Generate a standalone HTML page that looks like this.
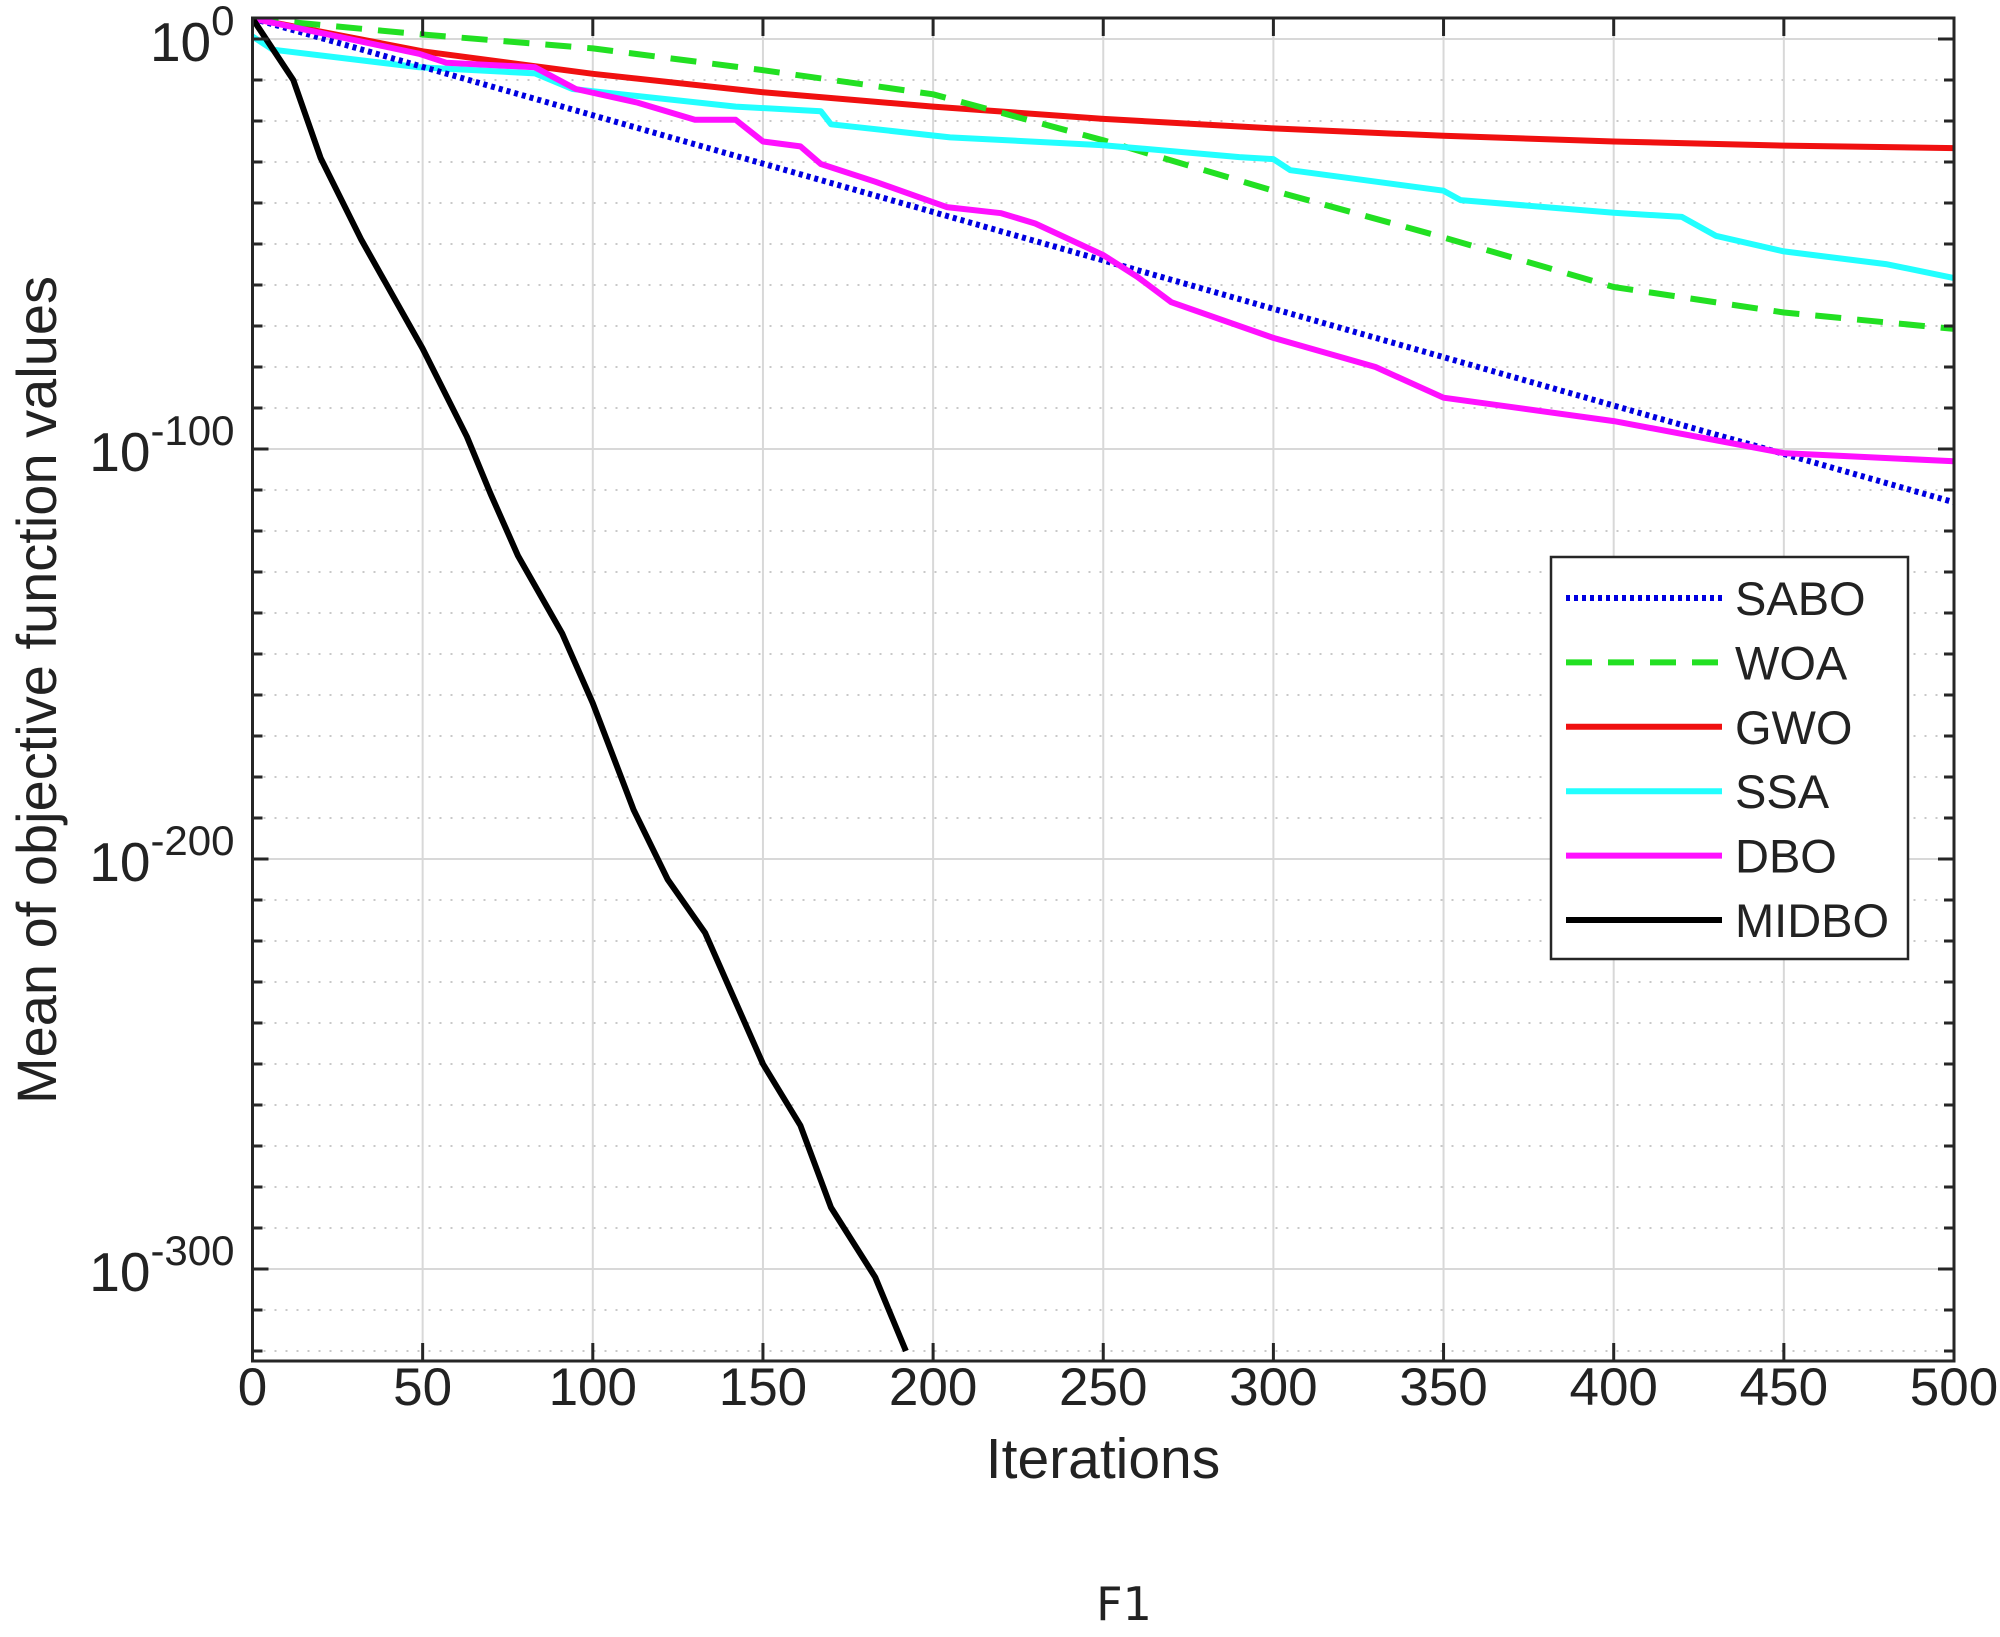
<!DOCTYPE html>
<html><head><meta charset="utf-8"><style>
html,body{margin:0;padding:0;background:#fff;}
svg{display:block;font-family:"Liberation Sans",Arial,sans-serif;}
</style></head><body>
<svg id="chart" width="2000" height="1637" viewBox="0 0 2000 1637" xmlns="http://www.w3.org/2000/svg">
<g id="grid"></g>
<g id="series"></g>
<g id="axes"></g>
<text x="1103" y="1478" font-size="57" text-anchor="middle" fill="#222">Iterations</text>
<text transform="translate(56,690) rotate(-90)" font-size="56" text-anchor="middle" fill="#222">Mean of objective function values</text>
<text x="1124" y="1620" font-size="46" text-anchor="middle" fill="#222" font-family="DejaVu Sans, sans-serif">F1</text>
<g id="legend"></g>
</svg>
<script>
const xTicks=[0,50,100,150,200,250,300,350,400,450,500];
const yMajor=[0,-100,-200,-300];
const seriesNames=["SABO","WOA","GWO","SSA","DBO","MIDBO"];
const saboX=[0,500];
const saboY=[5,-113];
const woaX=[0,50,100,150,200,250,300,350,400,450,500];
const woaY=[5,1.1,-2.3,-7.6,-13.5,-24.7,-37,-48.4,-60.5,-66.7,-70.7];
const gwoX=[0,50,100,150,200,250,300,350,400,450,500];
const gwoY=[5,-3,-8.5,-13,-16.5,-19.5,-21.8,-23.6,-25,-26,-26.6];
const ssaX=[0,6,49,83,94,142,167,170,205,250,290,300,305,350,355,400,420,430,450,480,500];
const ssaY=[0.6,-2.6,-6.9,-8.4,-12.2,-16.5,-17.6,-20.8,-24,-25.9,-28.8,-29.3,-32,-37,-39.3,-42.4,-43.4,-48,-51.8,-54.9,-58.3];
const dboX=[0,49,57,83,95,113,130,142,150,161,167,183,204,220,230,250,260,270,300,330,350,400,450,500];
const dboY=[5,-3.6,-5.8,-6.9,-12.2,-15.5,-19.7,-19.7,-25,-26.2,-30.5,-34.8,-41,-42.5,-45,-52.7,-58,-64.2,-72.9,-80,-87.5,-93.2,-101,-103];
const midboX=[0,12,20,32,50,63,70,78,91,100,112,122,133,150,161,170,183,192];
const midboY=[5,-10,-29,-49,-75.5,-97,-111,-126,-145,-162,-188,-205,-218,-250,-265,-285,-302,-320];
const L=252.5,R=1954,T=18,B=1361,e0=39,pxPerDec=4.1;
function xs(v){return L+(v-0)/(500-0)*(R-L);}
function ys(e){return e0-e*pxPerDec;}
const NS="http://www.w3.org/2000/svg";
function mk(tag,attrs,parent){const el=document.createElementNS(NS,tag);for(const k in attrs)el.setAttribute(k,attrs[k]);parent.appendChild(el);return el;}
const grid=document.getElementById('grid'),axes=document.getElementById('axes'),ser=document.getElementById('series'),leg=document.getElementById('legend');
for(let e=0;e>=-320;e-=10){
  const y=ys(e);if(y<T||y>B)continue;
  const major=(e%100===0);
  const ln=mk('line',{x1:L,x2:R,y1:y,y2:y,stroke:major?'#d8d8d8':'#c8c8c8','stroke-width':2,'stroke-dasharray':major?'':'2 9'},grid);
  
  
  const tk=mk('line',{x1:L,x2:L+(major?16:10),y1:y,y2:y,stroke:'#262626','stroke-width':3},axes);
  
  
  const tk2=mk('line',{x1:R,x2:R-(major?16:10),y1:y,y2:y,stroke:'#262626','stroke-width':3},axes);
  
  
}
xTicks.forEach(v=>{
  const x=xs(v);
  const g=mk('line',{x1:x,x2:x,y1:T,y2:B,stroke:'#d8d8d8','stroke-width':2},grid);
  
  
  const t=mk('line',{x1:x,x2:x,y1:B,y2:B-18,stroke:'#262626','stroke-width':3},axes);
  
  
  const t2=mk('line',{x1:x,x2:x,y1:T,y2:T+18,stroke:'#262626','stroke-width':3},axes);
  
  
  const lb=mk('text',{x:x,y:1405,'font-size':53,'text-anchor':'middle',fill:'#222'},axes);
  lb.textContent=v;
  
  
});
yMajor.forEach(e=>{
  const y=ys(e);
  const lb=mk('text',{x:L-18,y:y+22,'font-size':55,'text-anchor':'end',fill:'#222'},axes);
  const t1=mk('tspan',{},lb);t1.textContent='10';
  const t2=mk('tspan',{dy:-26,'font-size':42},lb);t2.textContent=String(e);
  
  
});
const frame=mk('rect',{x:L,y:T,width:R-L,height:B-T,fill:'none',stroke:'#262626','stroke-width':3},axes);


const styles=[
 {c:'#0000e0',d:'4 4',w:6},
 {c:'#22e022',d:'26 16',w:6},
 {c:'#f01010',d:'',w:6},
 {c:'#22ffff',d:'',w:6},
 {c:'#ff10ff',d:'',w:6},
 {c:'#000000',d:'',w:6}];
const data=[[saboX,saboY],[woaX,woaY],[gwoX,gwoY],[ssaX,ssaY],[dboX,dboY],[midboX,midboY]];
const cp=mk('clipPath',{id:'clip'},ser);mk('rect',{x:L,y:T,width:R-L,height:B-T},cp);
[2,1,3,0,4,5].forEach(i=>{
  const [X,Y]=data[i];
  const pts=X.map((v,j)=>xs(v).toFixed(1)+','+ys(Y[j]).toFixed(1)).join(' ');
  const p=mk('polyline',{points:pts,fill:'none',stroke:styles[i].c,'stroke-width':styles[i].w,'stroke-dasharray':styles[i].d,'stroke-linejoin':'round','clip-path':'url(#clip)'},ser);
  
  
});
const lb=mk('rect',{x:1551,y:557,width:357,height:402,fill:'#fff',stroke:'#262626','stroke-width':2.5},leg);


seriesNames.forEach((n,i)=>{
  const y=598+i*64.4;
  const l=mk('line',{x1:1566,x2:1722,y1:y,y2:y,stroke:styles[i].c,'stroke-width':6,'stroke-dasharray':styles[i].d},leg);
  
  
  const t=mk('text',{x:1735,y:y+17,'font-size':47,fill:'#222'},leg);
  t.textContent=n;
  
  
});
</script>
</body></html>
